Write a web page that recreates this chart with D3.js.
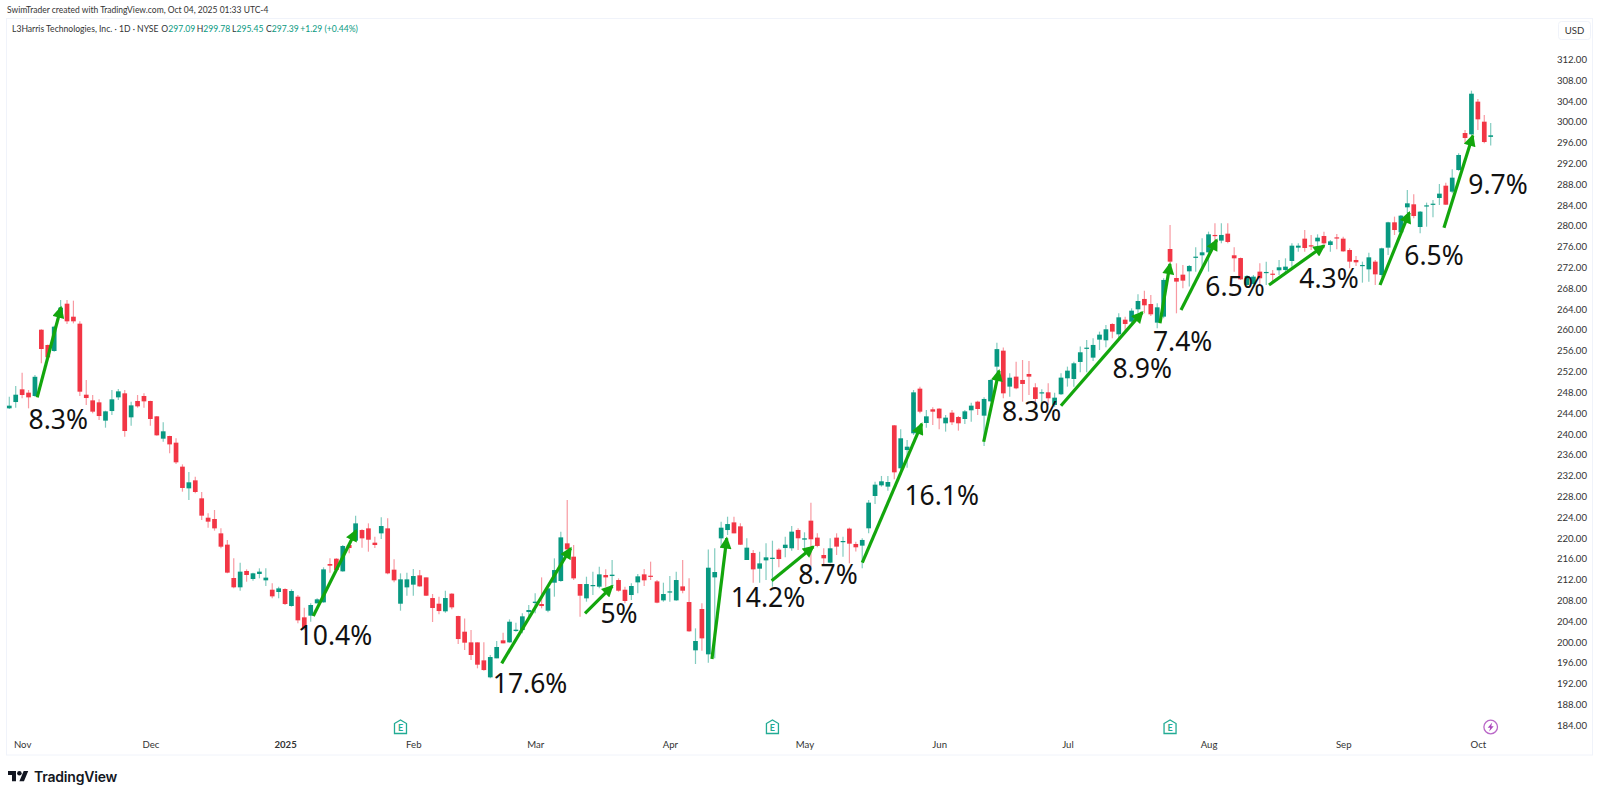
<!DOCTYPE html>
<html>
<head>
<meta charset="utf-8">
<title>L3Harris Technologies - 1D</title>
<script src="https://cdn.jsdelivr.net/npm/d3@7"></script>
<style>
  html, body { margin: 0; padding: 0; background: #fff; }
  svg { display: block; font-family: "Open Sans", Roboto, sans-serif; }
</style>
</head>
<body>
<svg id="chart" width="1600" height="797"></svg>
<script>
// daily candles, oldest first (Oct 30 2024 - Oct 3 2025)
const opens = [
  244.92,246.13,248.57,247.93,247.29,260.03,257.09,255.94,262.66,265.03,
  262.53,261.19,247.54,246.45,246.07,242.55,244.40,247.03,247.80,243.19,
  246.33,247.29,246.33,243.38,239.09,239.60,238.32,233.71,229.54,231.08,
  227.62,223.90,223.65,220.89,218.72,212.31,210.52,213.66,212.12,213.08,
  211.86,210.06,209.62,210.19,206.93,208.72,204.75,205.07,207.44,207.63,
  215.00,216.02,213.59,218.65,219.48,221.53,221.85,219.10,220.89,221.85,
  213.91,207.37,210.51,211.03,212.82,212.43,208.46,207.37,205.90,209.30,
  205.00,201.99,199.94,199.94,196.48,193.22,196.87,200.33,199.94,202.12,
  202.31,205.77,207.50,207.31,206.03,211.41,211.73,218.97,216.41,211.15,
  208.40,210.83,210.64,212.88,212.69,211.92,210.06,209.04,211.47,213.01,
  212.75,211.66,208.01,209.55,208.01,210.70,207.69,198.41,206.35,197.64,
  212.43,219.93,221.53,223.00,222.24,215.77,217.11,214.10,215.70,215.96,
  217.75,218.07,218.02,221.54,219.68,223.33,220.07,216.73,215.26,220.07,
  219.23,221.80,218.85,218.53,221.86,228.07,230.12,229.87,241.65,233.39,
  236.91,240.12,248.70,242.10,244.73,244.86,242.04,244.09,243.25,242.87,
  244.54,246.20,243.51,246.26,252.93,256.00,249.09,251.01,250.37,251.52,
  248.96,247.87,248.00,245.57,247.62,250.69,250.56,253.83,256.39,254.66,
  258.12,257.99,261.13,259.14,261.96,261.58,263.95,265.94,264.97,261.39,
  262.54,275.54,269.97,270.61,271.25,273.88,274.33,274.90,278.24,277.15,
  278.49,274.33,273.80,268.63,268.82,271.19,271.00,270.80,271.45,271.51,
  273.24,275.80,277.53,276.25,277.01,278.04,276.31,277.78,277.53,275.35,
  273.43,272.34,271.63,273.11,270.54,275.80,280.67,278.74,283.55,284.13,
  279.77,283.74,284.06,285.34,287.71,286.56,290.72,297.83,297.58,303.86,
  300.01,297.09
];
const highs = [
  247.16,249.21,251.77,248.44,251.32,260.10,257.20,260.80,265.74,265.74,
  265.61,261.64,250.36,247.48,246.65,244.47,248.44,248.63,248.44,246.20,
  247.48,247.80,246.39,243.44,242.23,239.66,239.15,234.15,232.68,231.78,
  228.84,224.74,225.38,221.85,219.61,216.09,215.26,213.98,213.34,214.17,
  214.17,211.28,210.64,210.32,210.13,209.04,206.61,207.44,208.40,214.36,
  216.09,216.09,218.65,218.65,224.29,221.66,222.81,220.25,223.97,223.77,
  215.89,213.20,213.33,214.04,213.84,212.43,209.23,208.72,209.87,209.36,
  205.07,204.55,202.31,199.94,199.94,197.51,200.20,201.80,204.36,203.72,
  205.52,207.12,209.36,212.43,210.32,216.09,221.21,227.30,218.65,211.15,
  212.56,213.52,214.48,213.97,215.77,212.24,210.64,211.28,213.08,214.04,
  215.45,211.92,211.41,212.69,213.52,215.77,212.24,202.63,207.44,217.81,
  218.01,223.13,224.09,224.09,222.81,219.93,217.69,217.37,218.97,219.48,
  218.01,220.25,222.31,221.86,221.09,226.79,220.90,218.02,219.94,220.90,
  220.26,221.99,219.30,219.94,227.30,230.83,231.92,231.92,241.72,240.89,
  238.84,248.44,249.09,244.60,245.11,244.92,243.64,244.60,243.45,244.60,
  246.01,246.39,247.03,250.49,257.50,256.60,251.65,253.89,254.21,254.00,
  249.73,248.58,249.73,247.93,251.65,252.93,253.89,256.78,258.06,258.38,
  259.66,260.94,261.26,263.18,262.54,264.14,266.83,267.54,266.70,265.10,
  269.91,280.16,272.79,272.47,272.47,275.87,277.59,278.88,280.48,280.48,
  280.48,275.87,273.90,270.55,270.55,272.79,273.11,271.51,273.43,273.75,
  276.63,276.63,279.19,278.23,278.36,278.87,277.27,278.42,277.91,275.67,
  274.20,273.11,274.84,273.43,275.80,280.79,281.76,282.08,286.88,286.05,
  282.84,284.45,284.96,288.03,288.29,290.85,293.93,298.41,305.97,304.37,
  301.29,299.78
];
const lows = [
  244.80,245.05,246.84,244.92,247.16,253.56,254.60,255.80,262.53,261.12,
  261.25,247.29,245.56,243.96,242.67,241.20,243.64,246.52,239.47,241.59,
  245.05,245.05,241.59,239.66,238.51,236.27,234.22,228.90,227.30,228.58,
  223.46,221.98,221.41,218.01,213.21,210.32,209.88,211.60,211.80,212.25,
  210.77,208.40,208.40,207.12,206.80,203.59,202.31,203.91,207.44,207.57,
  213.33,213.52,213.52,217.05,219.42,218.14,217.37,218.07,219.80,213.01,
  211.47,206.03,208.91,208.91,210.64,208.85,203.85,205.32,205.64,206.28,
  199.62,198.47,196.55,194.95,194.50,193.02,196.87,199.75,199.88,201.99,
  201.67,204.88,205.52,206.48,205.71,208.72,211.60,217.69,211.92,204.88,
  207.76,209.04,210.32,210.64,210.64,209.68,207.44,208.08,209.36,210.77,
  211.92,207.44,207.76,207.76,207.95,209.36,201.99,195.78,198.34,196.03,
  196.87,218.33,220.57,220.89,218.65,215.77,211.41,211.41,211.92,210.64,
  214.36,216.28,217.57,217.70,217.70,214.49,218.21,214.81,215.13,216.73,
  216.41,215.13,217.38,214.17,220.90,226.54,229.87,229.10,231.28,232.43,
  233.50,239.80,243.96,241.21,241.72,240.89,240.44,241.72,240.63,241.91,
  242.36,243.64,237.68,246.20,251.65,246.84,247.16,248.57,246.20,247.50,
  245.24,245.24,245.57,245.24,247.49,249.09,249.09,251.84,251.84,254.02,
  256.13,256.65,258.38,258.38,259.66,260.94,263.18,263.18,262.67,260.30,
  262.22,272.79,263.18,267.99,268.31,271.19,271.83,271.19,276.00,276.63,
  276.63,271.19,269.59,268.31,268.31,268.63,268.63,268.95,270.55,270.87,
  272.15,275.03,275.03,275.35,275.99,275.67,275.03,275.48,275.03,271.83,
  272.27,269.07,269.26,268.62,270.22,274.39,278.23,278.55,282.40,281.44,
  278.55,279.83,281.63,283.99,283.99,286.24,290.60,295.85,297.45,298.41,
  295.85,295.45
];
const closes = [
  245.43,247.54,247.48,247.03,250.98,256.32,254.72,260.61,264.26,261.64,
  261.64,248.12,246.90,244.28,243.44,244.34,246.65,248.18,240.56,245.49,
  245.30,246.26,242.87,239.73,240.50,237.99,234.54,229.61,230.70,228.84,
  224.29,223.14,221.85,218.33,213.34,210.52,213.53,212.89,213.21,213.53,
  212.38,208.78,210.32,207.31,209.81,204.17,202.63,207.12,208.21,213.97,
  214.68,213.84,218.46,218.07,222.81,219.93,219.67,218.65,222.30,213.20,
  211.86,212.05,212.05,212.69,210.70,208.91,206.54,205.96,208.46,206.67,
  200.58,199.88,197.51,195.65,194.62,197.12,199.05,199.75,203.91,202.38,
  204.94,206.16,207.76,206.92,210.32,213.84,220.12,217.82,212.24,208.91,
  211.15,210.96,213.01,212.43,212.95,209.87,207.89,210.77,212.63,211.86,
  212.56,207.57,209.23,209.74,211.92,209.87,202.06,200.20,200.71,214.29,
  213.46,221.98,222.68,220.89,218.71,218.14,213.97,215.12,216.28,216.21,
  215.96,218.71,221.22,219.94,219.94,219.75,218.47,216.09,218.02,218.34,
  219.42,218.91,218.21,219.62,226.79,230.25,230.89,230.76,232.62,239.16,
  237.55,247.99,244.28,243.38,244.28,243.00,243.13,242.23,242.04,244.34,
  245.43,244.79,246.72,250.37,256.30,247.80,250.81,248.76,249.60,251.01,
  246.72,248.00,246.85,246.97,250.82,252.16,253.57,255.69,256.58,257.10,
  259.08,260.11,259.66,262.41,261.13,263.69,265.55,264.72,262.99,264.33,
  269.59,273.11,269.27,269.46,272.28,274.07,274.90,278.36,278.04,278.24,
  276.89,273.75,269.71,270.36,270.23,269.91,271.13,270.67,272.02,272.15,
  276.18,276.18,275.73,276.12,277.72,276.63,277.01,277.59,275.09,273.11,
  272.98,272.47,273.94,270.67,275.67,280.67,279.19,281.95,284.32,281.88,
  282.72,283.93,284.25,286.18,284.06,289.25,293.61,296.87,305.39,300.46,
  296.10,297.39
];

// time axis: candle index of the first session of each month
const monthIdx = [2, 22, 43, 63, 82, 103, 124, 145, 165, 187, 208, 229];
const monthLabels = ["Nov", "Dec", "2025", "Feb", "Mar", "Apr", "May", "Jun", "Jul", "Aug", "Sep", "Oct"];
const priceTicks = d3.range(184, 313, 4);

// earnings / dividend markers
const earningsIdx = [61, 119, 181];
const flashIdx = [231];

// hand drawn arrows, candle index and price of both ends
const arrowFromIdx = [4.35, 47.4, 76.78, 89.77, 109.57, 118.88, 133.01, 151.94, 163.99, 179.43, 182.71, 196.43, 213.74, 223.71];
const arrowFromPx = [247.04, 205.0, 195.91, 205.52, 196.74, 211.79, 215.25, 238.5, 245.42, 261.26, 263.82, 268.62, 268.62, 279.63];
const arrowToIdx = [8.06, 54.06, 87.54, 94.03, 111.87, 125.37, 142.27, 154.33, 176.67, 180.99, 188.27, 205.0, 218.3, 228.2];
const arrowToPx = [264.3, 221.4, 218.02, 210.77, 219.94, 218.32, 241.91, 252.15, 263.37, 272.66, 277.27, 276.17, 282.52, 297.32];

const gainLabels = ["8.3%", "10.4%", "17.6%", "5%", "14.2%", "8.7%", "16.1%", "8.3%", "8.9%", "7.4%", "6.5%", "4.3%", "6.5%", "9.7%"];
const gainIdx = [7.64, 50.79, 81.2, 95.07, 118.3, 127.66, 145.39, 159.42, 176.67, 182.97, 191.13, 205.79, 222.16, 232.13];
const gainPx = [242.81, 201.35, 192.13, 205.58, 208.66, 213.08, 228.26, 244.4, 252.61, 257.86, 268.43, 269.91, 274.39, 288.03];

const UP = "#089981", DOWN = "#f23645", ARROW = "#13a60d";
const candles = opens.map((o, i) => ({ i, o, h: highs[i], l: lows[i], c: closes[i] }));

const x = d3.scaleLinear().domain([0, 231]).range([9.3, 1490.7]);
const y = d3.scaleLinear().domain([184, 312]).range([725.3, 59.3]);

const svg = d3.select("#chart");

// panel outline
svg.append("rect")
  .attr("x", 6.5).attr("y", 18.5).attr("width", 1586).attr("height", 736.5)
  .attr("fill", "none").attr("stroke", "#f0f3fa");

// header
svg.append("text").attr("x", 7).attr("y", 13)
  .attr("font-family", "Lato, sans-serif").attr("font-size", 8.5).attr("fill", "#333")
  .text("SwimTrader created with TradingView.com, Oct 04, 2025 01:33 UTC-4");

const legend = svg.append("g").attr("font-family", "Lato, sans-serif").attr("font-size", 8.6);
legend.append("text").attr("x", 12).attr("y", 32).attr("fill", "#333")
  .text("L3Harris Technologies, Inc. · 1D · NYSE");
const legendKeys = ["O", "H", "L", "C"];
const legendVals = ["297.09", "299.78", "295.45", "297.39"];
const legendX = [161.3, 196.7, 232, 266];
legendKeys.forEach((k, i) => {
  const t = legend.append("text").attr("x", legendX[i]).attr("y", 32).attr("fill", "#333").text(k);
  t.append("tspan").attr("fill", UP).text(legendVals[i]);
});
legend.append("text").attr("x", 300.3).attr("y", 32).attr("fill", UP).text("+1.29 (+0.44%)");

// price axis
const yAxis = svg.append("g")
  .attr("transform", "translate(1587,0)")
  .call(d3.axisLeft(y).tickValues(priceTicks).tickSize(0).tickPadding(0).tickFormat(d3.format(".2f")));
yAxis.select(".domain").remove();
yAxis.selectAll("text")
  .attr("font-family", "Lato, sans-serif").attr("font-size", 9.6).attr("fill", "#333");

svg.append("rect")
  .attr("x", 1558.5).attr("y", 21.5).attr("width", 32).attr("height", 18).attr("rx", 3)
  .attr("fill", "#fff").attr("stroke", "#f0f3fa");
svg.append("text").attr("x", 1574.5).attr("y", 34).attr("text-anchor", "middle")
  .attr("font-family", "Lato, sans-serif").attr("font-size", 9.6).attr("fill", "#333").text("USD");

// time axis
const xAxis = svg.append("g")
  .attr("transform", "translate(0,741)")
  .call(d3.axisBottom(x).tickValues(monthIdx).tickSize(0).tickPadding(0)
    .tickFormat((d, i) => monthLabels[i]));
xAxis.select(".domain").remove();
xAxis.selectAll("text")
  .attr("font-family", "Lato, sans-serif").attr("font-size", 9.6).attr("fill", "#333")
  .attr("font-weight", (d, i) => monthLabels[i] === "2025" ? 700 : 400);

// candles
const candle = svg.append("g").selectAll("g").data(candles).join("g");
candle.append("line")
  .attr("x1", d => x(d.i)).attr("x2", d => x(d.i))
  .attr("y1", d => y(d.h)).attr("y2", d => y(d.l))
  .attr("stroke", d => d.c >= d.o ? UP : DOWN)
  .attr("stroke-opacity", 0.5).attr("stroke-width", 1.2);
candle.append("rect")
  .attr("x", d => x(d.i) - 2.35).attr("width", 4.7)
  .attr("y", d => y(Math.max(d.o, d.c)))
  .attr("height", d => Math.max(1.2, Math.abs(y(d.o) - y(d.c))))
  .attr("fill", d => d.c >= d.o ? UP : DOWN);

// arrows
const defs = svg.append("defs");
defs.append("marker")
  .attr("id", "head").attr("viewBox", "0 0 10 10")
  .attr("refX", 8.5).attr("refY", 5)
  .attr("markerUnits", "userSpaceOnUse").attr("markerWidth", 13).attr("markerHeight", 12)
  .attr("orient", "auto")
  .append("path").attr("d", "M0,0L10,5L0,10Z").attr("fill", ARROW);

svg.append("g").selectAll("line").data(arrowFromIdx).join("line")
  .attr("x1", d => x(d))
  .attr("y1", (d, i) => y(arrowFromPx[i]))
  .attr("x2", (d, i) => x(arrowToIdx[i]))
  .attr("y2", (d, i) => y(arrowToPx[i]))
  .attr("stroke", ARROW).attr("stroke-width", 3.2)
  .attr("marker-end", "url(#head)");

// percent labels
svg.append("g").selectAll("text").data(gainLabels).join("text")
  .attr("x", (d, i) => x(gainIdx[i]))
  .attr("y", (d, i) => y(gainPx[i]))
  .attr("dy", "0.36em")
  .attr("text-anchor", "middle")
  .attr("font-family", "'Noto Sans', sans-serif")
  .attr("font-size", 26.5).attr("fill", "#111")
  .text(d => d);

// earnings markers
const earn = svg.append("g").selectAll("g").data(earningsIdx).join("g")
  .attr("transform", d => `translate(${x(d)},727)`);
earn.append("path")
  .attr("d", "M-6,-3.5L0,-7L6,-3.5V6.5H-6Z")
  .attr("fill", "#fff").attr("stroke", "#22ab94").attr("stroke-width", 1.3);
earn.append("text").attr("text-anchor", "middle").attr("y", 4)
  .attr("font-family", "Lato, sans-serif").attr("font-size", 9).attr("font-weight", 700)
  .attr("fill", "#22ab94").text("E");

const flash = svg.append("g").selectAll("g").data(flashIdx).join("g")
  .attr("transform", d => `translate(${x(d)},727)`);
flash.append("circle").attr("r", 6.8).attr("fill", "#fff").attr("stroke", "#ba68c8").attr("stroke-width", 1.3);
flash.append("path").attr("d", "M1.5,-4.5L-3,0.8H-0.5L-1.5,4.5L3,-0.8H0.5Z").attr("fill", "#ab47bc");

// TradingView mark
const logo = svg.append("g").attr("transform", "translate(8,768.7) scale(0.57)").attr("fill", "#131722");
logo.append("path").attr("d", "M14 22H7V11H0V4h14v18zM28 22h-8l7.5-18h8L28 22z");
logo.append("circle").attr("cx", 20).attr("cy", 8).attr("r", 4);
svg.append("text").attr("x", 34).attr("y", 782)
  .attr("font-family", "Inter, sans-serif").attr("font-size", 14).attr("font-weight", 600)
  .attr("letter-spacing", -0.2).attr("fill", "#131722").text("TradingView");
</script>
</body>
</html>
